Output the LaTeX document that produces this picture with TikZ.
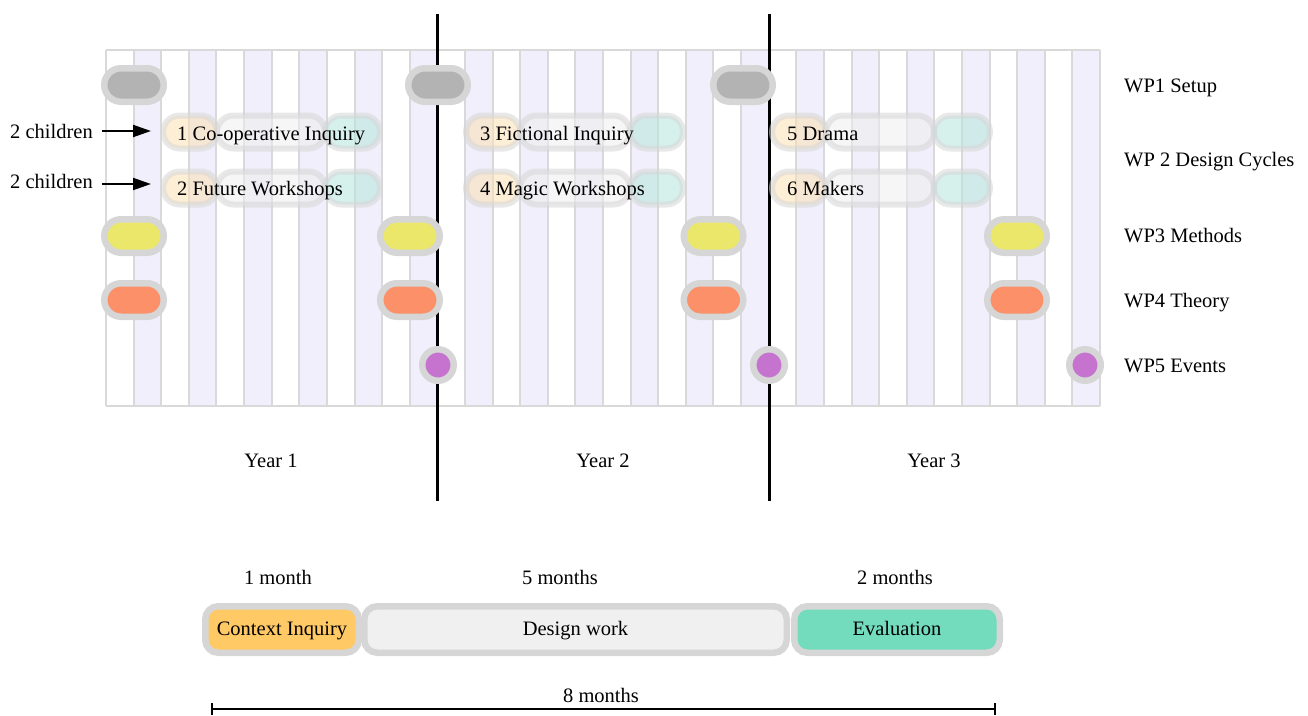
\documentclass[tikz,border=0pt]{standalone}
\usepackage{fontspec}
\setmainfont{Liberation Serif}
\usetikzlibrary{shapes.misc,arrows.meta}
\definecolor{gridcol}{HTML}{D9D9D9}
\definecolor{colshade}{HTML}{F1EFFB}
\definecolor{pillborder}{HTML}{D6D6D6}
\definecolor{setupfill}{HTML}{B3B3B3}
\definecolor{methfill}{HTML}{EBE76A}
\definecolor{theofill}{HTML}{FC9068}
\definecolor{evfill}{HTML}{C673CF}
\definecolor{ctxfill}{HTML}{FFC966}
\definecolor{desfill}{HTML}{F0F0F0}
\definecolor{evalfill}{HTML}{73DCBC}
\definecolor{cycO}{HTML}{FBE0B5}
\definecolor{cycG}{HTML}{EEEEEE}
\definecolor{cycT}{HTML}{B5E6DC}
\definecolor{cycB}{HTML}{D6D6D6}
\begin{document}
\begin{tikzpicture}[x=1pt,y=-1pt,
  txt/.style={font=\fontsize{20.5}{24}\selectfont, inner sep=0pt},
  wppill/.style={rounded rectangle, draw=pillborder, line width=6.5pt, minimum width=59.5pt, minimum height=33.5pt, inner sep=0pt},
  evdot/.style={circle, draw=pillborder, line width=6.5pt, minimum size=31.5pt, fill=evfill, inner sep=0pt},
  cyc/.style={rounded rectangle, draw=cycB, line width=6pt, minimum height=33pt, inner sep=0pt, opacity=0.55},
  phase/.style={rectangle, rounded corners=13pt, draw=pillborder, line width=6.5pt, minimum height=46.5pt, inner sep=0pt, txt, text height=14pt, text depth=3pt},
  yearline/.style={line width=3pt, black},
  gridln/.style={draw=gridcol, line width=2pt},
  ptr/.style={line width=2pt, -{Triangle[length=18pt,width=12pt]}, shorten <=9pt},
]
\useasboundingbox (0,0) rectangle (1308,715);
% grid
\foreach \i in {1,3,...,35}
  \fill[colshade] ({106+\i*27.6111},50) rectangle ({106+(\i+1)*27.6111},406);
\foreach \i in {0,...,36}
  \draw[gridln] ({106+\i*27.6111},50) -- ({106+\i*27.6111},406);
\draw[gridln] (106,50) -- (1100,50);
\draw[gridln] (106,406) -- (1100,406);
% year lines
\coordinate (y1t) at (437,14); \coordinate (y1b) at (437,501);
\coordinate (y2t) at (769,14); \coordinate (y2b) at (769,501);
\draw[yearline] (y1t) -- (y1b);
\draw[yearline] (y2t) -- (y2b);
% WP1
\node[wppill, fill=setupfill] (s1) at (134,85) {};
\node[wppill, fill=setupfill] (s2) at (438,85) {};
\node[wppill, fill=setupfill] (s3) at (743,85) {};
% WP3
\node[wppill, fill=methfill] (m1) at (134,236) {};
\node[wppill, fill=methfill] (m2) at (410,236) {};
\node[wppill, fill=methfill] (m3) at (713.5,236) {};
\node[wppill, fill=methfill] (m4) at (1017,236) {};
% WP4
\node[wppill, fill=theofill] (t1) at (134,300) {};
\node[wppill, fill=theofill] (t2) at (410,300) {};
\node[wppill, fill=theofill] (t3) at (713.5,300) {};
\node[wppill, fill=theofill] (t4) at (1017,300) {};
% WP5
\node[evdot] (e1) at (438,365) {};
\node[evdot] (e2) at (769,365) {};
\node[evdot] (e3) at (1085,365) {};
% WP2 design cycles
\foreach \r/\yy in {a/132,b/188}{
  \node[cyc, fill=cycO, minimum width=54pt] (o1\r) at (190,\yy) {};
  \node[cyc, fill=cycG, minimum width=108pt] (g1\r) at (271,\yy) {};
  \node[cyc, fill=cycT, minimum width=55pt] (q1\r) at (352.5,\yy) {};
  \node[cyc, fill=cycO, minimum width=54pt] (o2\r) at (493,\yy) {};
  \node[cyc, fill=cycG, minimum width=110pt] (g2\r) at (575,\yy) {};
  \node[cyc, fill=cycT, minimum width=53pt] (q2\r) at (656.5,\yy) {};
  \node[cyc, fill=cycO, minimum width=54pt] (o3\r) at (799,\yy) {};
  \node[cyc, fill=cycG, minimum width=108pt] (g3\r) at (880,\yy) {};
  \node[cyc, fill=cycT, minimum width=56pt] (q3\r) at (962,\yy) {};
}
\node[txt, anchor=base west] (c1) at (177,140) {1 Co-operative Inquiry};
\node[txt, anchor=base west] (c2) at (177,195) {2 Future Workshops};
\node[txt, anchor=base west] (c3) at (480,140) {3 Fictional Inquiry};
\node[txt, anchor=base west] (c4) at (480,195) {4 Magic Workshops};
\node[txt, anchor=base west] (c5) at (787,140) {5 Drama};
\node[txt, anchor=base west] (c6) at (787,195) {6 Makers};
% children pointers
\node[txt, anchor=base west] (ch1) at (10,138) {2 children};
\node[txt, anchor=base west] (ch2) at (10,188) {2 children};
\coordinate (a1) at (151,131);
\coordinate (a2) at (151,184);
\draw[ptr] (ch1.east |- a1) -- (a1);
\draw[ptr] (ch2.east |- a2) -- (a2);
% WP labels
\node[txt, anchor=base west] (l1) at (1124,92) {WP1 Setup};
\node[txt, anchor=base west] (l2) at (1124,166) {WP 2 Design Cycles};
\node[txt, anchor=base west] (l3) at (1124,242) {WP3 Methods};
\node[txt, anchor=base west] (l4) at (1124,307) {WP4 Theory};
\node[txt, anchor=base west] (l5) at (1124,372) {WP5 Events};
% years
\node[txt, anchor=base] (yr1) at (271,467) {Year 1};
\node[txt, anchor=base] (yr2) at (603,467) {Year 2};
\node[txt, anchor=base] (yr3) at (934,467) {Year 3};
% phases
\node[txt, anchor=base] (d1) at (278,584) {1 month};
\node[txt, anchor=base] (d2) at (560,584) {5 months};
\node[txt, anchor=base] (d3) at (895,584) {2 months};
\node[phase, fill=ctxfill, minimum width=153.5pt] (ctx) at (282,629.5) {Context Inquiry};
\node[phase, fill=desfill, minimum width=422.5pt] (des) at (575.5,629.5) {Design work};
\node[phase, fill=evalfill, minimum width=205.5pt] (evl) at (897,629.5) {Evaluation};
% scale bar
\node[txt, anchor=base] (tot) at (601,702) {8 months};
\coordinate (b1) at (211,709);
\coordinate (b2) at (996,709);
\draw[line width=2pt, {Bar[width=12pt]}-{Bar[width=12pt]}] (b1) -- (b2);
\end{tikzpicture}
\end{document}
